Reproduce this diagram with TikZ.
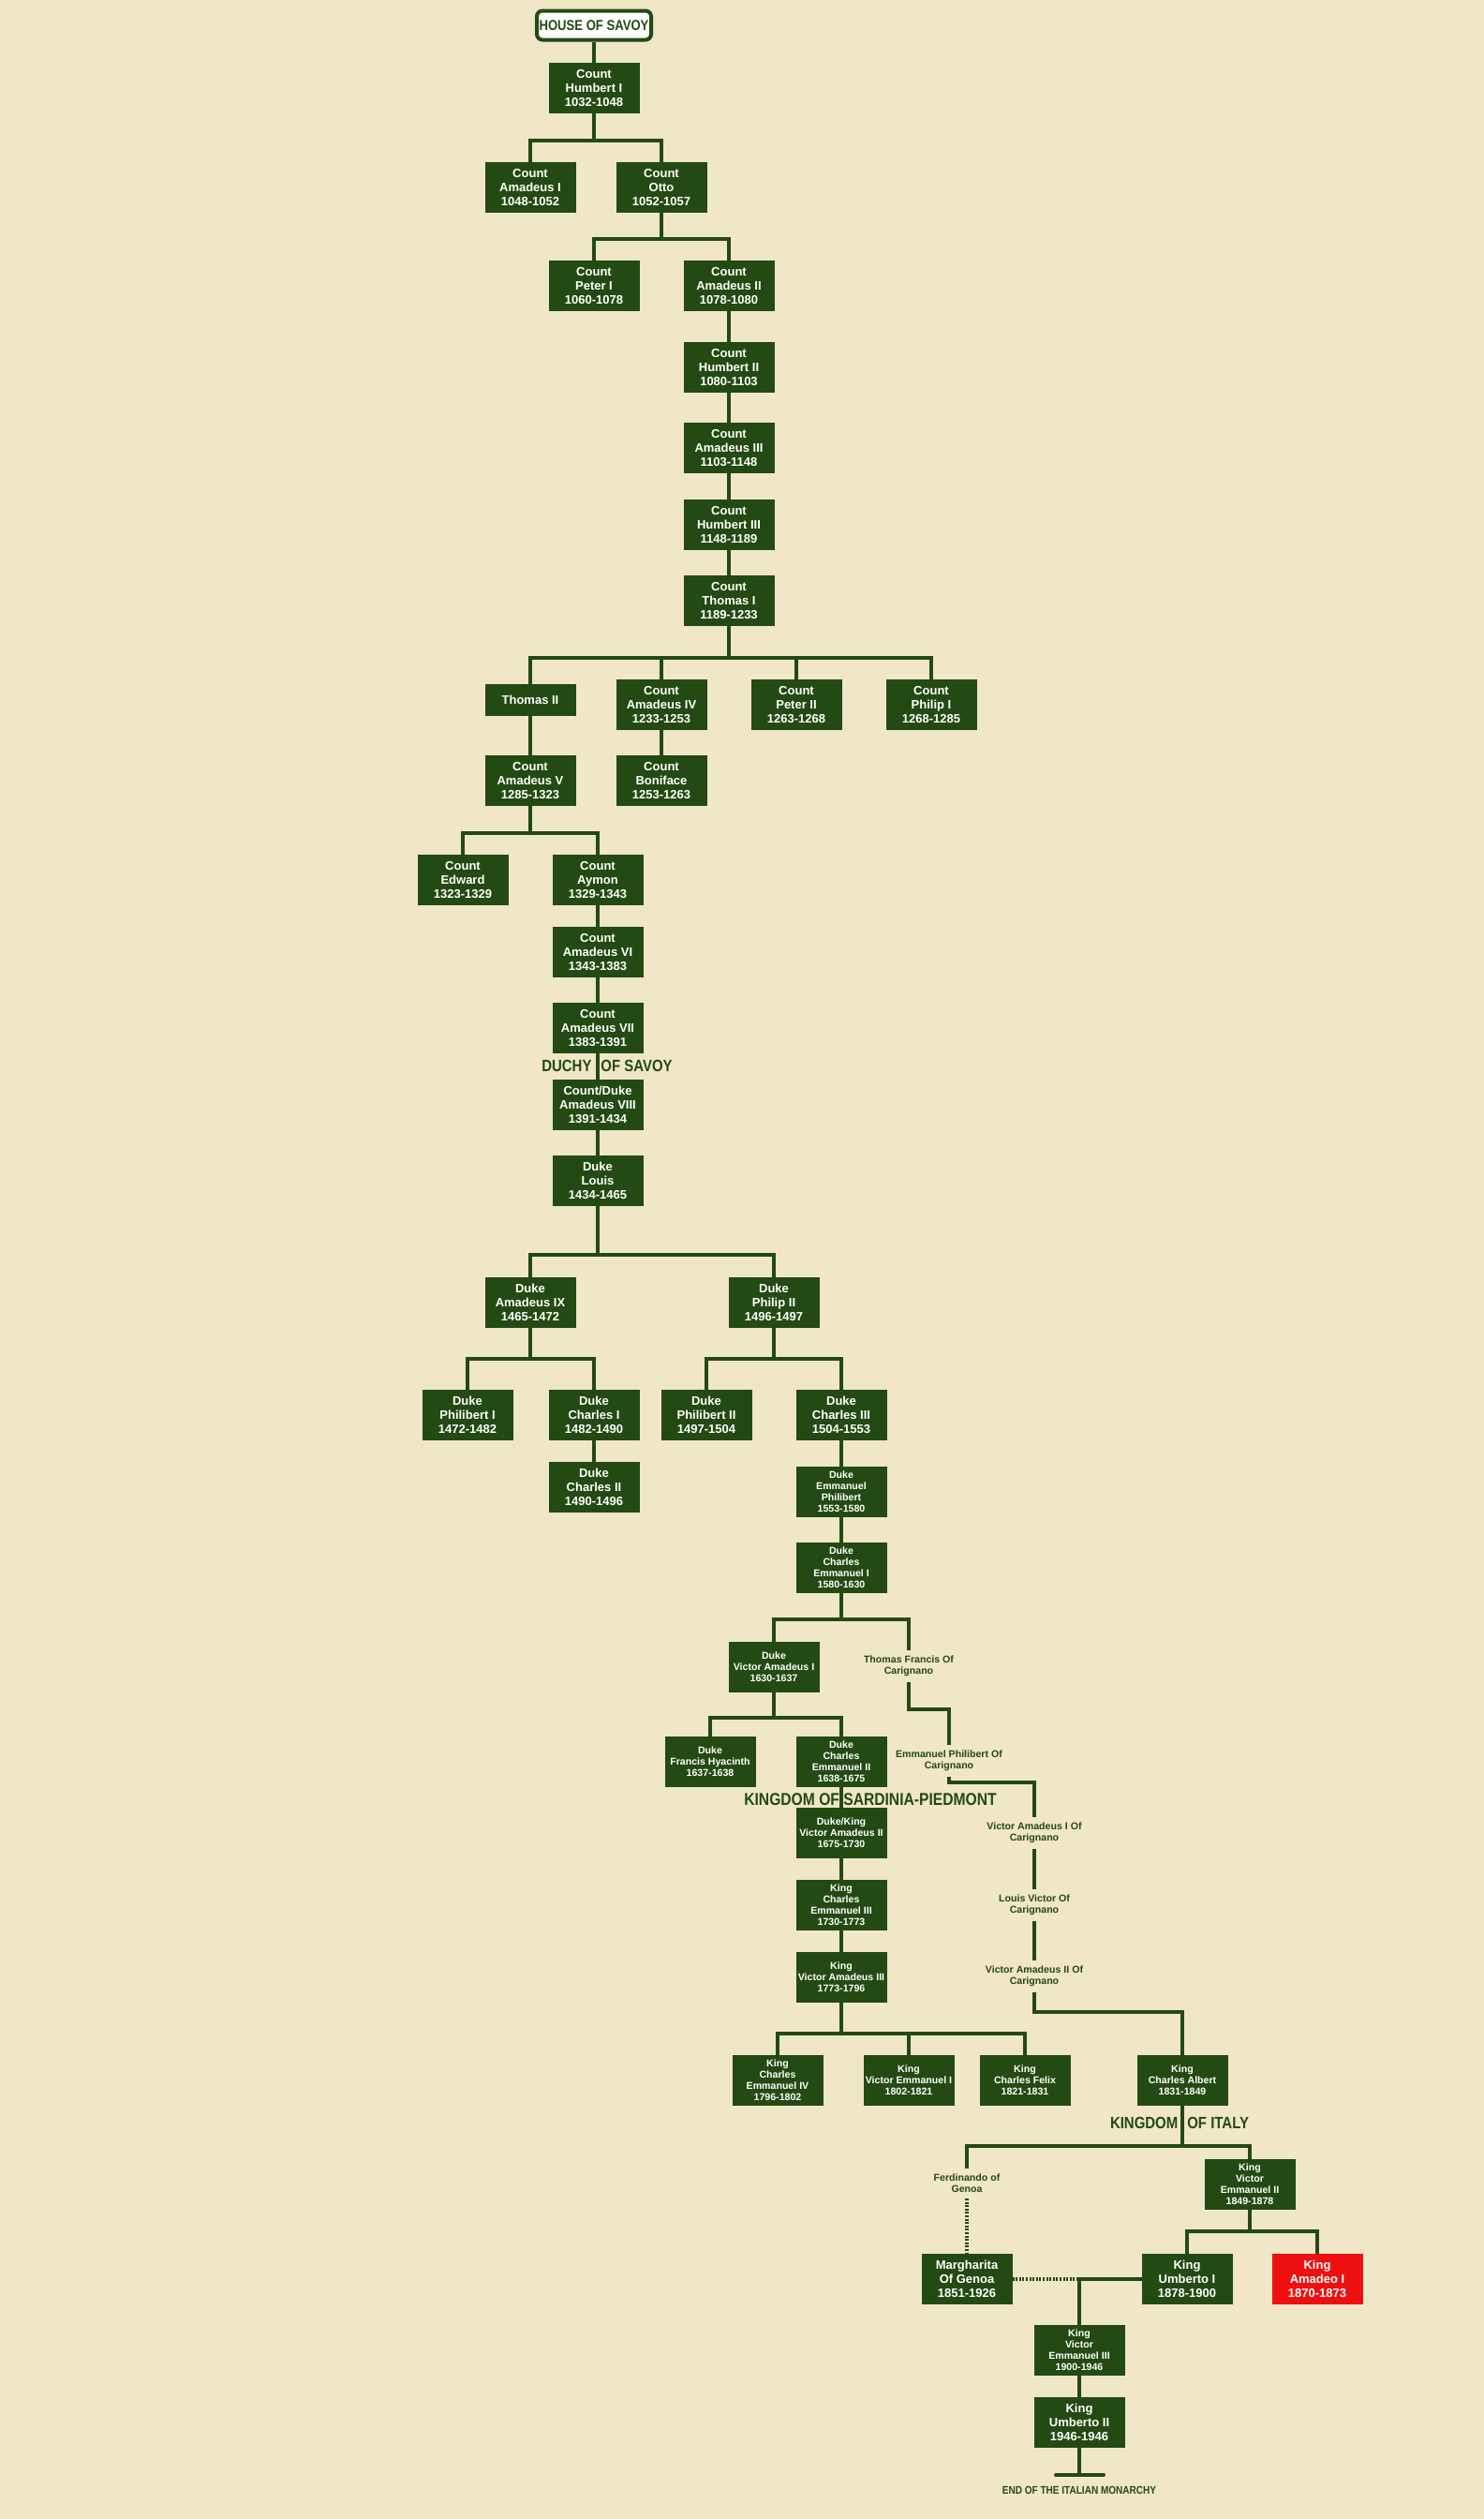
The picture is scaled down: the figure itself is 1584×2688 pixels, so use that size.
\documentclass[tikz,border=0pt]{standalone}
\usepackage{fontspec}
\setmainfont{Liberation Sans}
\newfontfamily\headfont{Liberation Sans}[FakeStretch=0.85]
\definecolor{savoygreen}{RGB}{35,74,18}
\definecolor{parchment}{RGB}{240,230,200}
\definecolor{amadeored}{RGB}{238,16,16}

\begin{document}
\begin{tikzpicture}[x=0.5pt, y=-0.5pt,
    ruler/.style={rectangle, fill=savoygreen, text=white, align=center,
        font=\fontsize{6.5}{7.5}\selectfont\bfseries,
        minimum width=48.5pt, minimum height=27pt, inner sep=0pt, outer sep=0pt},
    smallruler/.style={ruler, font=\fontsize{5.3}{6}\selectfont\bfseries},
    branch/.style={text=savoygreen, align=center, inner xsep=0pt, inner ysep=2.8pt,
        font=\fontsize{5.3}{6}\selectfont\bfseries},
    era/.style={text=savoygreen, inner sep=0pt, font=\headfont\fontsize{8.8}{10}\selectfont\bfseries},
    link/.style={draw=savoygreen, line width=2pt},
    marriage/.style={draw=savoygreen, line width=1.6pt, dash pattern=on 1pt off 0.8pt}]

    % Background (pixel grid, y grows downwards)
    \fill[parchment] (0,0) rectangle (1584,2688);
    \useasboundingbox (0,0) rectangle (1584,2688);

    % Counts of Savoy
    \node[draw=savoygreen, line width=2pt, fill=white, rounded corners=3pt, text=savoygreen,
        minimum width=61pt, minimum height=15.5pt, inner sep=0pt,
        font=\headfont\fontsize{7.7}{9}\selectfont\bfseries] (house) at (634,27) {HOUSE OF SAVOY};
    \node[ruler] (humbertI) at (634,94) {Count\\Humbert I\\1032-1048};
    \node[ruler] (amadeusI) at (566,200) {Count\\Amadeus I\\1048-1052};
    \node[ruler] (otto) at (706,200) {Count\\Otto\\1052-1057};
    \node[ruler] (peterI) at (634,305) {Count\\Peter I\\1060-1078};
    \node[ruler] (amadeusII) at (778,305) {Count\\Amadeus II\\1078-1080};
    \node[ruler] (humbertII) at (778,392) {Count\\Humbert II\\1080-1103};
    \node[ruler] (amadeusIII) at (778,478) {Count\\Amadeus III\\1103-1148};
    \node[ruler] (humbertIII) at (778,560) {Count\\Humbert III\\1148-1189};
    \node[ruler] (thomasI) at (778,641) {Count\\Thomas I\\1189-1233};
    \node[ruler, minimum height=17pt] (thomasII) at (566,747) {Thomas II};
    \node[ruler] (amadeusIV) at (706,752) {Count\\Amadeus IV\\1233-1253};
    \node[ruler] (peterII) at (850,752) {Count\\Peter II\\1263-1268};
    \node[ruler] (philipI) at (994,752) {Count\\Philip I\\1268-1285};
    \node[ruler] (amadeusV) at (566,833) {Count\\Amadeus V\\1285-1323};
    \node[ruler] (boniface) at (706,833) {Count\\Boniface\\1253-1263};
    \node[ruler] (edward) at (494,939) {Count\\Edward\\1323-1329};
    \node[ruler] (aymon) at (638,939) {Count\\Aymon\\1329-1343};
    \node[ruler] (amadeusVI) at (638,1016) {Count\\Amadeus VI\\1343-1383};
    \node[ruler] (amadeusVII) at (638,1097) {Count\\Amadeus VII\\1383-1391};

    % Dukes of Savoy
    \node[era] (duchy) at (648,1137) {DUCHY\hspace{5pt}OF SAVOY};
    \node[ruler] (amadeusVIII) at (638,1179) {Count/Duke\\Amadeus VIII\\1391-1434};
    \node[ruler] (louis) at (638,1260) {Duke\\Louis\\1434-1465};
    \node[ruler] (amadeusIX) at (566,1390) {Duke\\Amadeus IX\\1465-1472};
    \node[ruler] (philipII) at (826,1390) {Duke\\Philip II\\1496-1497};
    \node[ruler] (philibertI) at (499,1510) {Duke\\Philibert I\\1472-1482};
    \node[ruler] (charlesI) at (634,1510) {Duke\\Charles I\\1482-1490};
    \node[ruler] (philibertII) at (754,1510) {Duke\\Philibert II\\1497-1504};
    \node[ruler] (charlesIII) at (898,1510) {Duke\\Charles III\\1504-1553};
    \node[ruler] (charlesII) at (634,1587) {Duke\\Charles II\\1490-1496};
    \node[smallruler] (emmanuelphilibert) at (898,1592) {Duke\\Emmanuel\\Philibert\\1553-1580};
    \node[smallruler] (charlesemmanuelI) at (898,1673) {Duke\\Charles\\Emmanuel I\\1580-1630};
    \node[smallruler] (victoramadeusI) at (826,1779) {Duke\\Victor Amadeus I\\1630-1637};
    \node[smallruler] (francishyacinth) at (758,1880) {Duke\\Francis Hyacinth\\1637-1638};
    \node[smallruler] (charlesemmanuelII) at (898,1880) {Duke\\Charles\\Emmanuel II\\1638-1675};

    % Carignano branch
    \node[branch] (thomasfrancis) at (970,1778) {Thomas Francis Of\\Carignano};
    \node[branch] (emmanuelphilibertC) at (1013,1879) {Emmanuel Philibert Of\\Carignano};
    \node[branch] (victoramadeusIC) at (1104,1956) {Victor Amadeus I Of\\Carignano};
    \node[branch] (louisvictor) at (1104,2033) {Louis Victor Of\\Carignano};
    \node[branch] (victoramadeusIIC) at (1104,2109) {Victor Amadeus II Of\\Carignano};

    % Kings of Sardinia
    \node[era, font=\headfont\fontsize{9.2}{10}\selectfont\bfseries] (sardinia) at (929,1920) {KINGDOM OF SARDINIA-PIEDMONT};
    \node[smallruler] (victoramadeusII) at (898,1956) {Duke/King\\Victor Amadeus II\\1675-1730};
    \node[smallruler] (charlesemmanuelIII) at (898,2033) {King\\Charles\\Emmanuel III\\1730-1773};
    \node[smallruler] (victoramadeusIII) at (898,2110) {King\\Victor Amadeus III\\1773-1796};
    \node[smallruler] (charlesemmanuelIV) at (830,2220) {King\\Charles\\Emmanuel IV\\1796-1802};
    \node[smallruler] (victoremmanuelI) at (970,2220) {King\\Victor Emmanuel I\\1802-1821};
    \node[smallruler] (charlesfelix) at (1094,2220) {King\\Charles Felix\\1821-1831};
    \node[smallruler] (charlesalbert) at (1262,2220) {King\\Charles Albert\\1831-1849};

    % Kings of Italy
    \node[era] (italy) at (1259,2265) {KINGDOM\hspace{5pt}OF ITALY};
    \node[branch] (ferdinando) at (1032,2330) {Ferdinando of\\Genoa};
    \node[smallruler] (victoremmanuelII) at (1334,2331) {King\\Victor\\Emmanuel II\\1849-1878};
    \node[ruler] (margharita) at (1032,2432) {Margharita\\Of Genoa\\1851-1926};
    \node[ruler] (umbertoI) at (1267,2432) {King\\Umberto I\\1878-1900};
    \node[ruler, fill=amadeored] (amadeoI) at (1406,2432) {King\\Amadeo I\\1870-1873};
    \node[smallruler] (victoremmanuelIII) at (1152,2508) {King\\Victor\\Emmanuel III\\1900-1946};
    \node[ruler] (umbertoII) at (1152,2585) {King\\Umberto II\\1946-1946};
    \node[era, font=\headfont\fontsize{5.9}{7}\selectfont\bfseries] (monarchyend) at (1152,2657) {END OF THE ITALIAN MONARCHY};
    \coordinate (wed) at (1152,2432);
    \coordinate (endbar) at (1152,2641);

    % Lines of descent
    \draw[link] (house) -- (humbertI);
    \draw[link] (humbertI.south) -- ++(0,29) -| (amadeusI.north);
    \draw[link] (humbertI.south) -- ++(0,29) -| (otto.north);
    \draw[link] (otto.south) -- ++(0,28) -| (peterI.north);
    \draw[link] (otto.south) -- ++(0,28) -| (amadeusII.north);
    \draw[link] (amadeusII) -- (humbertII);
    \draw[link] (humbertII) -- (amadeusIII);
    \draw[link] (amadeusIII) -- (humbertIII);
    \draw[link] (humbertIII) -- (thomasI);
    \draw[link] (thomasI.south) -- ++(0,34) -| (thomasII.north);
    \draw[link] (thomasI.south) -- ++(0,34) -| (amadeusIV.north);
    \draw[link] (thomasI.south) -- ++(0,34) -| (peterII.north);
    \draw[link] (thomasI.south) -- ++(0,34) -| (philipI.north);
    \draw[link] (thomasII) -- (amadeusV);
    \draw[link] (amadeusIV) -- (boniface);
    \draw[link] (amadeusV.south) -- ++(0,29) -| (edward.north);
    \draw[link] (amadeusV.south) -- ++(0,29) -| (aymon.north);
    \draw[link] (aymon) -- (amadeusVI);
    \draw[link] (amadeusVI) -- (amadeusVII);
    \draw[link] (amadeusVII) -- (amadeusVIII);
    \draw[link] (amadeusVIII) -- (louis);
    \draw[link] (louis.south) -- ++(0,52) -| (amadeusIX.north);
    \draw[link] (louis.south) -- ++(0,52) -| (philipII.north);
    \draw[link] (amadeusIX.south) -- ++(0,33) -| (philibertI.north);
    \draw[link] (amadeusIX.south) -- ++(0,33) -| (charlesI.north);
    \draw[link] (philipII.south) -- ++(0,33) -| (philibertII.north);
    \draw[link] (philipII.south) -- ++(0,33) -| (charlesIII.north);
    \draw[link] (charlesI) -- (charlesII);
    \draw[link] (charlesIII) -- (emmanuelphilibert);
    \draw[link] (emmanuelphilibert) -- (charlesemmanuelI);
    \draw[link] (charlesemmanuelI.south) -- ++(0,28) -| (victoramadeusI.north);
    \draw[link] (charlesemmanuelI.south) -- ++(0,28) -| (thomasfrancis.north);
    \draw[link] (victoramadeusI.south) -- ++(0,27) -| (francishyacinth.north);
    \draw[link] (victoramadeusI.south) -- ++(0,27) -| (charlesemmanuelII.north);
    \draw[link] (charlesemmanuelII) -- (victoramadeusII);
    \draw[link] (victoramadeusII) -- (charlesemmanuelIII);
    \draw[link] (charlesemmanuelIII) -- (victoramadeusIII);
    \draw[link] (victoramadeusIII.south) -- ++(0,33) -| (charlesemmanuelIV.north);
    \draw[link] (victoramadeusIII.south) -- ++(0,33) -| (victoremmanuelI.north);
    \draw[link] (victoramadeusIII.south) -- ++(0,33) -| (charlesfelix.north);

    % Carignano line
    \draw[link] (thomasfrancis.south) -- ++(0,29) -| (emmanuelphilibertC.north);
    \draw[link] (emmanuelphilibertC.south) -- ++(0,6) -| (victoramadeusIC.north);
    \draw[link] (victoramadeusIC) -- (louisvictor);
    \draw[link] (louisvictor) -- (victoramadeusIIC);
    \draw[link] (victoramadeusIIC.south) -- ++(0,21) -| (charlesalbert.north);

    % Italy
    \draw[link] (charlesalbert.south) -- ++(0,43) -| (ferdinando.north);
    \draw[link] (charlesalbert.south) -- ++(0,43) -| (victoremmanuelII.north);
    \draw[link] (victoremmanuelII.south) -- ++(0,23) -| (umbertoI.north);
    \draw[link] (victoremmanuelII.south) -- ++(0,23) -| (amadeoI.north);
    \draw[marriage] (ferdinando) -- (margharita);
    \draw[marriage] (margharita) -- (wed);
    \draw[link] (umbertoI.west) -| (victoremmanuelIII.north);
    \draw[link] (victoremmanuelIII) -- (umbertoII);
    \draw[link] (umbertoII) -- (endbar);
    \draw[link, line cap=round] (1127,2641) -- (1178,2641);
\end{tikzpicture}
\end{document}
